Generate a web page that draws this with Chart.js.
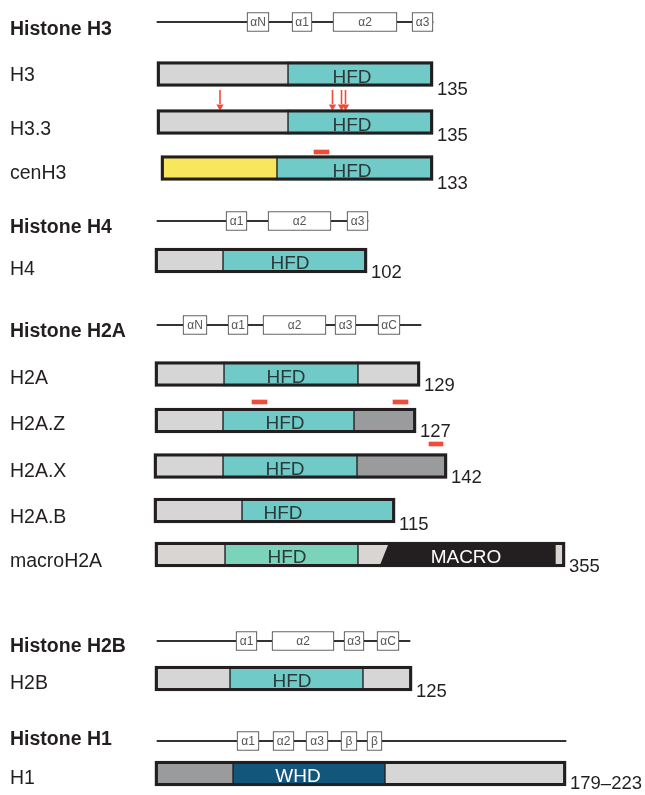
<!DOCTYPE html>
<html>
<head>
<meta charset="utf-8">
<script src="https://cdn.jsdelivr.net/npm/chart.js@4.4.0/dist/chart.umd.min.js"></script>
<style>html,body{margin:0;padding:0;background:#fff}canvas{display:block}</style>
</head>
<body>
<canvas id="draw-on-me" width="645" height="795"></canvas>
<script>
// positions are in diagram units (0..645 across, 0..795 down)
const headerNames = ['Histone H3', 'Histone H4', 'Histone H2A', 'Histone H2B', 'Histone H1']
const headerY = [22, 221, 325, 641, 741]
const headerTextY = [29.5, 228, 331.5, 647, 740]
const headerLine = [[157, 433], [157, 368], [157, 421], [157, 410], [157, 566]]
const helixBoxes = [
  [['αN', 247, 269], ['α1', 292, 312], ['α2', 333, 397], ['α3', 412, 433]],
  [['α1', 226, 247], ['α2', 268, 331], ['α3', 347, 368]],
  [['αN', 183, 207], ['α1', 228, 248], ['α2', 263, 326], ['α3', 335, 356], ['αC', 378, 400]],
  [['α1', 236, 257], ['α2', 272, 334], ['α3', 344, 364], ['αC', 377, 399]],
  [['α1', 237, 259], ['α2', 273, 294], ['α3', 306, 328], ['β', 341, 357], ['β', 367, 382]]
]

const rowNames = ['H3', 'H3.3', 'cenH3', 'H4', 'H2A', 'H2A.Z', 'H2A.X', 'H2A.B', 'macroH2A', 'H2B', 'H1']
const rowY = [74, 122, 168, 260.5, 374, 420.5, 466, 510.5, 554.5, 678.5, 773.5]
const rowLabelY = [76, 129.5, 173.5, 270, 378.5, 424.5, 471.5, 518, 561.5, 684, 778.5]
const rowLength = ['135', '135', '133', '102', '129', '127', '142', '115', '355', '125', '179–223']
const rowLengthY = [90, 135.5, 183.5, 272.5, 386, 431.5, 478, 524.5, 567, 691.5, 784]
const rowSegs = [
  [[157, 288, 'grey'], [288, 433, 'hfd']],
  [[157, 288, 'grey'], [288, 433, 'hfd']],
  [[161, 277, 'yellow'], [277, 433, 'hfd']],
  [[155, 223, 'grey'], [223, 367, 'hfd']],
  [[155, 224, 'grey'], [224, 358, 'hfd'], [358, 420, 'grey']],
  [[155, 223, 'grey'], [223, 354, 'hfd'], [354, 416, 'dark']],
  [[154, 223, 'grey'], [223, 357, 'hfd'], [357, 447, 'dark']],
  [[154, 242, 'grey'], [242, 395, 'hfd']],
  [[155, 225, 'warm'], [225, 358, 'mint'], [358, 390, 'warm'], [390, 555, 'black'], [555, 565, 'warm']],
  [[155, 230, 'grey'], [230, 363, 'hfd'], [363, 412, 'grey']],
  [[155, 233, 'dark'], [233, 385, 'whd'], [385, 566, 'grey']]
]
// domain label in each row: [text, x]
const domainText = [
  [['HFD', 352]], [['HFD', 352]], [['HFD', 352]], [['HFD', 290]],
  [['HFD', 286]], [['HFD', 285]], [['HFD', 285]], [['HFD', 283]],
  [['HFD', 287], ['MACRO', 466]], [['HFD', 292]], [['WHD', 298]]
]
const arrowX = [220, 332.5, 341.5, 345.5]
const arrowY = [90, 104]
const redMarks = [[314, 329, 152], [252, 267, 402], [393, 408, 402], [429, 443, 444]]
const macroSlant = [[380, 567], [390, 542]]

const kindColor = {
  grey: '#d6d6d6', hfd: '#70cbc8', yellow: '#f8e75c', dark: '#9a9b9d',
  warm: '#d8d5d2', mint: '#7bd3b9', black: '#231f20', whd: '#13567b'
}
const RED = '#ef4c3a'

const datasets = []

// outline of each protein bar (on top)
datasets.push({
  type: 'bar', indexAxis: 'y', grouped: false, order: 0, barThickness: 25,
  data: rowSegs.map((s, i) => ({ y: rowY[i], x: [s[0][0], s[s.length - 1][1]] })),
  backgroundColor: 'rgba(0,0,0,0)', borderColor: '#231f20', borderWidth: 2.6, borderSkipped: false
})

// coloured segments
Object.keys(kindColor).forEach(kind => {
  const data = []
  rowSegs.forEach((segs, i) => segs.forEach(s => {
    if (s[2] === kind) data.push({ y: rowY[i], x: [s[0], s[1]] })
  }))
  if (!data.length) return
  datasets.push({
    type: 'bar', indexAxis: 'y', grouped: false, order: 6, barThickness: 25,
    data, backgroundColor: kindColor[kind], borderColor: '#231f20',
    borderWidth: { left: 1, right: 1, top: 0, bottom: 0 }, borderSkipped: false
  })
})

// slanted edge of the MACRO block
datasets.push({
  type: 'line', order: 4, data: macroSlant.map(p => ({ x: p[0], y: p[1] })),
  borderColor: '#231f20', borderWidth: 1.5, pointRadius: 0,
  fill: { value: macroSlant[0][1] }, backgroundColor: '#231f20'
})

// secondary structure lines + helix boxes
datasets.push({
  type: 'bar', indexAxis: 'y', grouped: false, order: 3, barThickness: 1.2,
  data: headerLine.map((l, i) => ({ y: headerY[i], x: l })),
  backgroundColor: '#333', borderWidth: 0
})
datasets.push({
  type: 'bar', indexAxis: 'y', grouped: false, order: 2, barThickness: 19,
  data: helixBoxes.flatMap((boxes, i) => boxes.map(b => ({ y: headerY[i], x: [b[1], b[2]] }))),
  backgroundColor: '#fff', borderColor: '#333', borderWidth: 1, borderSkipped: false
})

// red marks
datasets.push({
  type: 'bar', indexAxis: 'y', grouped: false, order: 1, barThickness: 4,
  data: redMarks.map(m => ({ y: m[2], x: [m[0], m[1]] })),
  backgroundColor: RED, borderWidth: 0
})
arrowX.forEach(ax => {
  datasets.push({
    type: 'line', order: 1, data: arrowY.map(y => ({ x: ax, y })),
    borderColor: RED, borderWidth: 1.6, pointRadius: 0, fill: false
  })
})
datasets.push({
  type: 'line', order: 1, showLine: false,
  data: arrowX.map(ax => ({ x: ax, y: arrowY[1] + 2.5 })),
  pointStyle: 'triangle', rotation: 180, pointRadius: 4.2,
  backgroundColor: RED, borderColor: RED, borderWidth: 0
})

const textPlugin = {
  id: 'texts',
  afterDatasetsDraw(chart) {
    const c = chart.ctx, sx = chart.scales.x, sy = chart.scales.y
    c.save()
    c.textBaseline = 'middle'
    c.fillStyle = '#231f20'
    c.textAlign = 'left'
    c.font = 'bold 19.5px "Liberation Sans", Arial, sans-serif'
    headerNames.forEach((h, i) => c.fillText(h, sx.getPixelForValue(10), sy.getPixelForValue(headerTextY[i])))
    c.font = '19.5px "Liberation Sans", Arial, sans-serif'
    rowNames.forEach((r, i) => c.fillText(r, sx.getPixelForValue(10), sy.getPixelForValue(rowLabelY[i])))
    c.font = '18.5px "Liberation Sans", Arial, sans-serif'
    rowLength.forEach((n, i) => {
      const segs = rowSegs[i]
      c.fillText(n, sx.getPixelForValue(segs[segs.length - 1][1] + 4), sy.getPixelForValue(rowLengthY[i]))
    })
    c.font = '19px "Liberation Sans", Arial, sans-serif'
    c.textAlign = 'center'
    domainText.forEach((d, i) => d.forEach(t => {
      c.fillStyle = t[0] === 'HFD' ? '#2a3a3a' : '#fff'
      c.fillText(t[0], sx.getPixelForValue(t[1]), sy.getPixelForValue(rowY[i] + 3.5))
    }))
    c.fillStyle = '#555'
    c.font = '12px "Liberation Sans", Arial, sans-serif'
    helixBoxes.forEach((boxes, i) => boxes.forEach(b => {
      c.fillText(b[0], sx.getPixelForValue((b[1] + b[2]) / 2), sy.getPixelForValue(headerY[i] + 0.5))
    }))
    c.restore()
  }
}

const ctx = document.getElementById('draw-on-me').getContext('2d')
const myChart = new Chart(ctx, {
  type: 'bar',
  data: { datasets },
  options: {
    responsive: false,
    devicePixelRatio: 1,
    animation: false,
    layout: { padding: 0, autoPadding: false },
    plugins: { legend: { display: false }, tooltip: { enabled: false } },
    scales: {
      x: { type: 'linear', min: 0, max: 645, offset: false, display: false },
      y: { type: 'linear', min: 0, max: 795, offset: false, reverse: true, display: false }
    }
  },
  plugins: [textPlugin]
})
</script>
</body>
</html>
